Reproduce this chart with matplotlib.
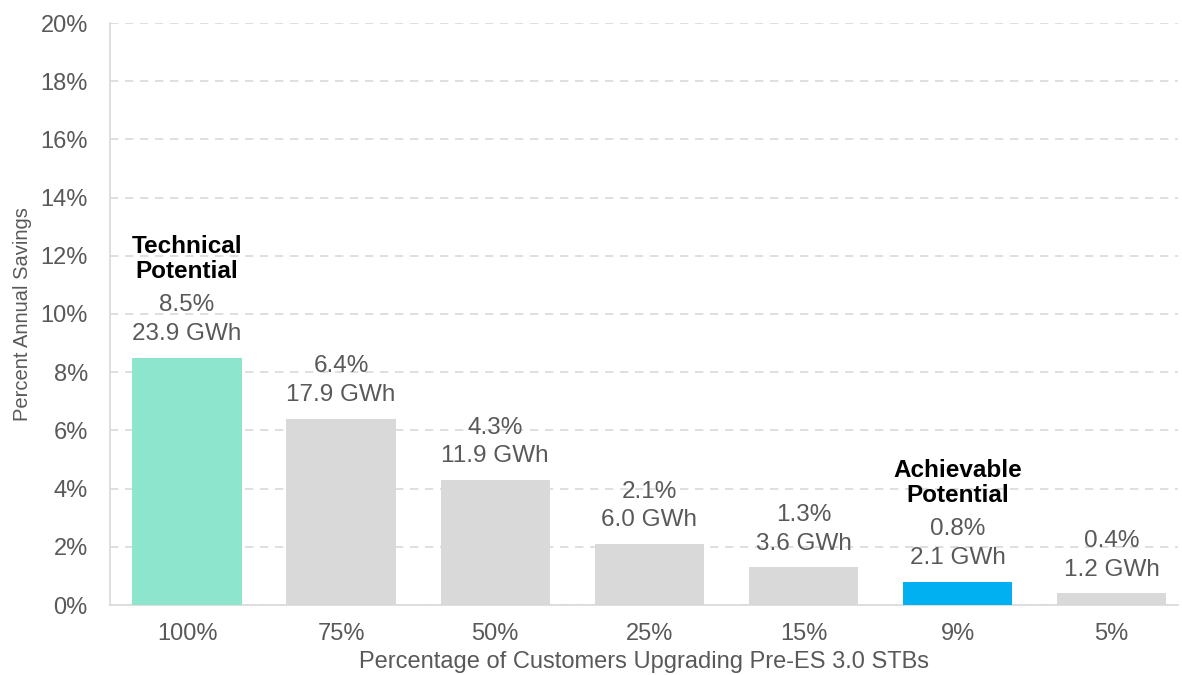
import matplotlib.pyplot as plt
import numpy as np

plt.rcParams['font.family'] = ['Liberation Sans', 'DejaVu Sans']

categories = ['100%', '75%', '50%', '25%', '15%', '9%', '5%']
savings_pct = [8.5, 6.4, 4.3, 2.1, 1.3, 0.8, 0.4]
savings_gwh = [23.9, 17.9, 11.9, 6.0, 3.6, 2.1, 1.2]
bar_colors = ['#8EE5CE', '#D9D9D9', '#D9D9D9', '#D9D9D9', '#D9D9D9', '#00B0F0', '#D9D9D9']
callouts = {0: 'Technical\nPotential', 5: 'Achievable\nPotential'}

text_gray = '#595959'

fig = plt.figure(figsize=(11.82, 6.75), dpi=100)
ax = fig.add_axes([110 / 1182, 70 / 675, 1068 / 1182, 582 / 675])

x = np.arange(len(categories))
ax.bar(x, savings_pct, width=0.71, color=bar_colors, zorder=3)

for i, (p, g) in enumerate(zip(savings_pct, savings_gwh)):
    ax.annotate(f'{p:.1f}%\n{g:.1f} GWh', (i, p), xytext=(0, 9),
                textcoords='offset points', ha='center', va='bottom',
                fontsize=17.5, color=text_gray, linespacing=1.4, zorder=4)
    if i in callouts:
        ax.annotate(callouts[i], (i, p), xytext=(0, 54),
                    textcoords='offset points', ha='center', va='bottom',
                    fontsize=17.5, fontweight='bold', color='black',
                    linespacing=1.1, zorder=4)

ax.set_xlim(-0.5, 6.43)
ax.set_ylim(0, 20)
ax.set_yticks(np.arange(0, 21, 2))
ax.set_yticklabels([f'{v}%' for v in range(0, 21, 2)])
ax.set_xticks(x)
ax.set_xticklabels(categories)
ax.tick_params(axis='both', length=0, labelsize=17, labelcolor=text_gray)
ax.tick_params(axis='y', pad=16)
ax.tick_params(axis='x', pad=13)

ax.grid(axis='y', color='#D9D9D9', linestyle=(0, (5, 4)), linewidth=1.2, zorder=0)
for side in ['top', 'right']:
    ax.spines[side].set_visible(False)
for side in ['left', 'bottom']:
    ax.spines[side].set_color('#D9D9D9')
    ax.spines[side].set_linewidth(1.2)

ax.set_xlabel('Percentage of Customers Upgrading Pre-ES 3.0 STBs',
              fontsize=17, color=text_gray, labelpad=4)
ax.set_ylabel('Percent Annual Savings', fontsize=14.5, color=text_gray, labelpad=6)

fig.savefig('out.png', dpi=100)
